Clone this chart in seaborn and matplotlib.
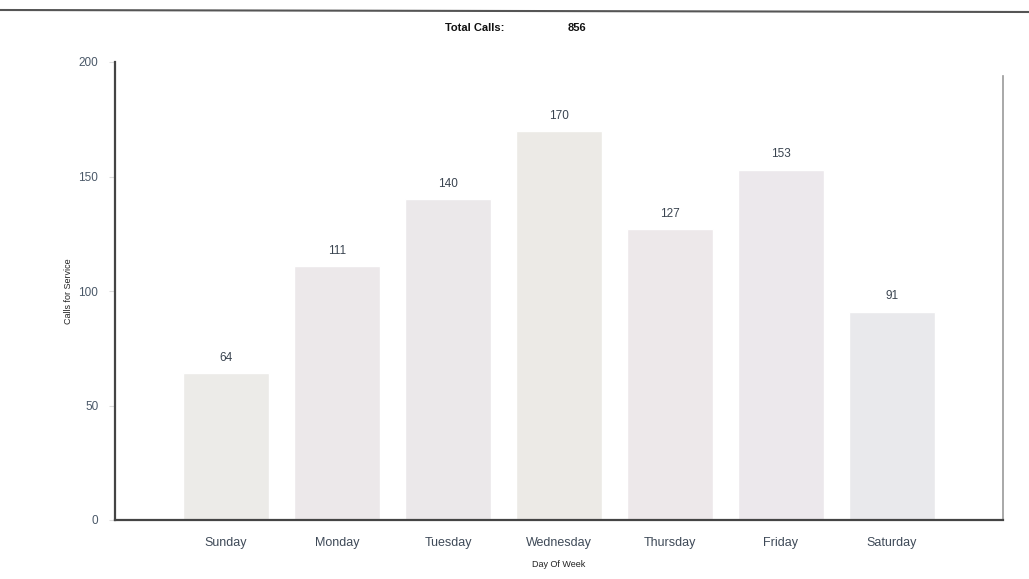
import matplotlib
matplotlib.use("Agg")
import matplotlib.pyplot as plt
import pandas as pd
import seaborn as sns

days = ["Sunday", "Monday", "Tuesday", "Wednesday", "Thursday", "Friday", "Saturday"]
calls = [64, 111, 140, 170, 127, 153, 91]
total_calls = 856

bar_colors = ["#ecebe8", "#ece8ea", "#ebe8ea", "#eceae6", "#ede8ea", "#ece8ec", "#e9e9ec"]

df = pd.DataFrame({"day": days, "calls": calls})

sns.set_style("white")
plt.rcParams["font.family"] = ["Liberation Sans", "DejaVu Sans"]

fig = plt.figure(figsize=(10.29, 5.79), dpi=100)
ax = fig.add_axes([115 / 1029, 1 - 520 / 579, 888 / 1029, 458 / 579])

sns.barplot(data=df, x="day", y="calls", hue="day", palette=bar_colors,
            width=0.78, saturation=1, legend=False, ax=ax)

for i, v in enumerate(calls):
    ax.text(i, v + 4, str(v), ha="center", va="bottom", fontsize=8.5, color="#3a4450")

ax.set_xlim(-1, 7)
ax.set_ylim(0, 200)
ax.set_yticks([0, 50, 100, 150, 200])
ax.tick_params(axis="y", labelsize=8.5, labelcolor="#4a5868", length=4, color="#dddddd",
               left=True, pad=8)
ax.tick_params(axis="x", labelsize=9, labelcolor="#3f4a58", length=0, pad=12)

ax.set_xlabel("Day Of Week", fontsize=6.5, labelpad=8, color="#222222")
ax.set_ylabel("Calls for Service", fontsize=6.5, labelpad=4, color="#222222")

for side in ["left", "bottom"]:
    ax.spines[side].set_color("#444444")
    ax.spines[side].set_linewidth(1.6)
ax.spines["right"].set_color("#999999")
ax.spines["right"].set_linewidth(1.2)
ax.spines["right"].set_bounds(0, 194)
ax.spines["top"].set_visible(False)

fig.add_artist(plt.Line2D([0, 1], [1 - 10 / 579, 1 - 12 / 579], color="#555555", linewidth=1.5))
fig.text(475 / 1029, 1 - 28 / 579, "Total Calls:", ha="center", va="center",
         fontsize=8, fontweight="bold", color="#111111")
fig.text(577 / 1029, 1 - 28 / 579, str(total_calls), ha="center", va="center",
         fontsize=8, fontweight="bold", color="#111111")

fig.savefig("out.png", dpi=100)
